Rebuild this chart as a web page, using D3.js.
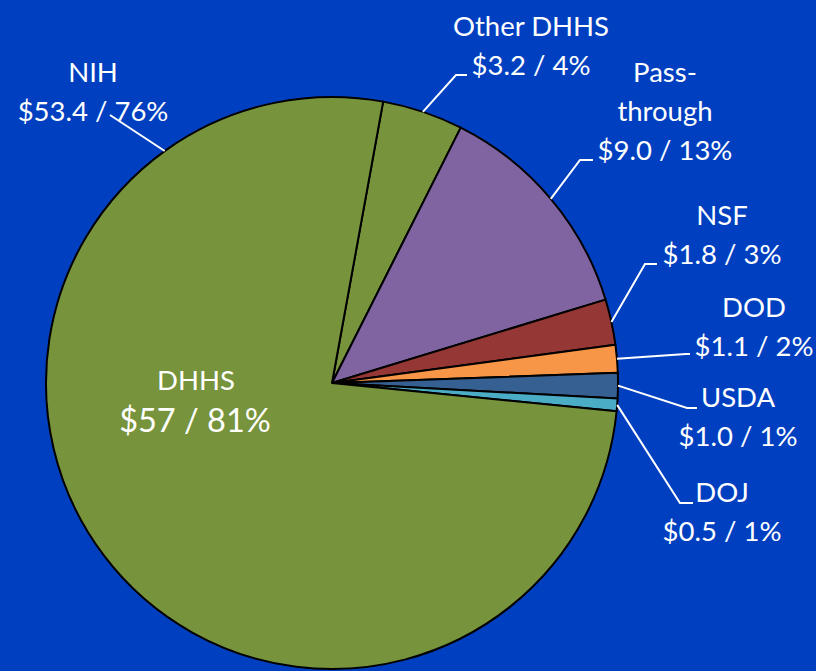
<!DOCTYPE html>
<html>
<head>
<meta charset="utf-8">
<script src="https://cdn.jsdelivr.net/npm/d3@7"></script>
<style>
  html, body { margin: 0; padding: 0; background: #0040c0; }
  svg { display: block; }
  text { font-family: Lato, "Open Sans", sans-serif; fill: #ffffff; }
</style>
</head>
<body>
<div id="chart"></div>
<script>
// data, in $ billions, clockwise from the top
var categories = ['Other DHHS', 'Pass-through', 'NSF', 'DOD', 'USDA', 'DOJ', 'NIH'];
var amounts = [3.2, 9.0, 1.8, 1.1, 1.0, 0.5, 53.4];
var amountLabels = ['$3.2', '$9.0', '$1.8', '$1.1', '$1.0', '$0.5', '$53.4'];
var percentLabels = ['4%', '13%', '3%', '2%', '1%', '1%', '76%'];
var colors = ['#77933c', '#8064a2', '#953735', '#f79646', '#376092', '#4bacc6', '#77933c'];
var groupTitle = ['DHHS', '$57 / 81%'];

var width = 816, height = 671;
var cx = 332, cy = 383, radius = 286;
var startDeg = 10.3;

// label placement: text centre x, first baseline, elbow points of the leader
var labelLayout = {
  'NIH':          { x: 93,  y: 82,  lines: ['NIH'], leader: [[110, 115]], angle: -35.8 },
  'Other DHHS':   { x: 531, y: 36,  lines: ['Other DHHS'], leader: [[467, 75], [456, 75]] },
  'Pass-through': { x: 665, y: 82,  lines: ['Pass-', 'through'], leader: [[593, 160], [580, 160]] },
  'NSF':          { x: 722, y: 225, lines: ['NSF'], leader: [[657, 264], [645, 264]] },
  'DOD':          { x: 754, y: 317, lines: ['DOD'], leader: [[690, 354], [686, 354]] },
  'USDA':         { x: 738, y: 407, lines: ['USDA'], leader: [[697, 408], [687, 408]] },
  'DOJ':          { x: 722, y: 502, lines: ['DOJ'], leader: [[693, 503], [680, 503]] }
};
var lineGap = 39;

var svg = d3.select('#chart').append('svg')
  .attr('width', width)
  .attr('height', height);

svg.append('rect')
  .attr('width', width)
  .attr('height', height)
  .attr('fill', '#0040c0');

var toRad = Math.PI / 180;
var pie = d3.pie()
  .sort(null)
  .value(function (d) { return d; })
  .startAngle(startDeg * toRad)
  .endAngle(startDeg * toRad + 2 * Math.PI);

var arcs = pie(amounts);

var arc = d3.arc()
  .innerRadius(0)
  .outerRadius(radius);

var g = svg.append('g')
  .attr('transform', 'translate(' + cx + ',' + cy + ')');

g.selectAll('path.slice')
  .data(arcs)
  .enter().append('path')
  .attr('class', 'slice')
  .attr('d', arc)
  .attr('fill', function (d, i) { return colors[i]; })
  .attr('stroke', '#000000')
  .attr('stroke-width', 2)
  .attr('stroke-linejoin', 'round');

// leader lines and outside labels
arcs.forEach(function (d, i) {
  var name = categories[i];
  var lay = labelLayout[name];
  var a = (lay.angle !== undefined ? lay.angle * toRad : (d.startAngle + d.endAngle) / 2);
  var edge = [cx + radius * Math.sin(a), cy - radius * Math.cos(a)];
  var pts = lay.leader.concat([edge]);

  svg.append('path')
    .attr('d', d3.line()(pts))
    .attr('fill', 'none')
    .attr('stroke', '#ffffff')
    .attr('stroke-width', 2);

  var t = svg.append('text')
    .attr('text-anchor', 'middle')
    .attr('font-size', 27.5);
  var lines = lay.lines.concat([amountLabels[i] + ' / ' + percentLabels[i]]);
  lines.forEach(function (s, j) {
    t.append('tspan')
      .attr('x', lay.x)
      .attr('y', lay.y + j * lineGap)
      .text(s);
  });
});

// DHHS total inside the pie
svg.append('text')
  .attr('text-anchor', 'middle')
  .attr('x', 196)
  .attr('y', 390)
  .attr('font-size', 27.5)
  .text(groupTitle[0]);

svg.append('text')
  .attr('text-anchor', 'middle')
  .attr('x', 195)
  .attr('y', 432)
  .attr('font-size', 32.5)
  .text(groupTitle[1]);
</script>
</body>
</html>
